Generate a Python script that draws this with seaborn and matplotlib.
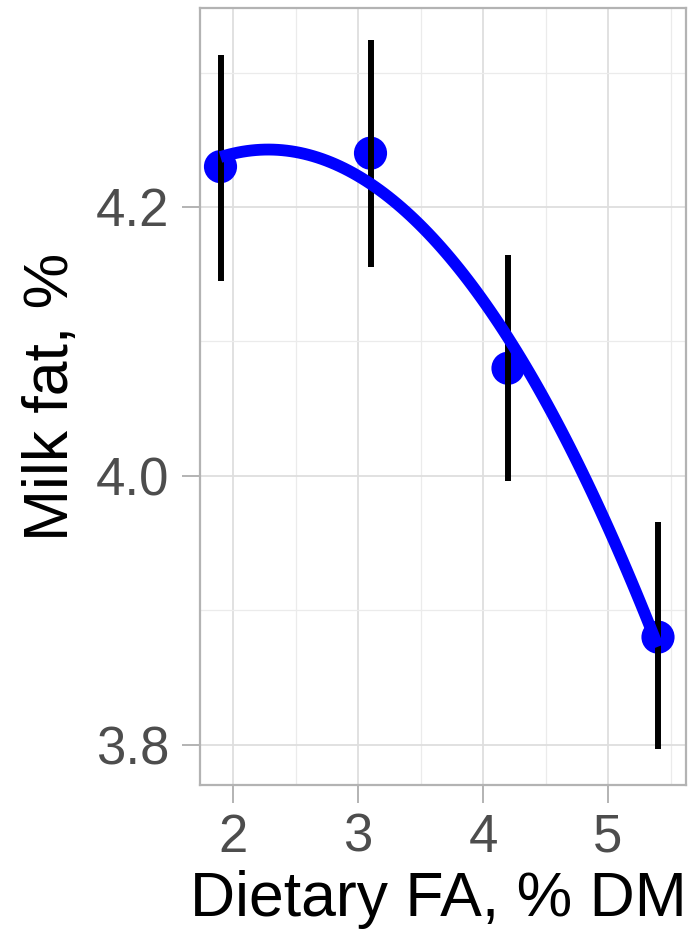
import matplotlib
matplotlib.use("Agg")
import matplotlib.pyplot as plt
import seaborn as sns
import numpy as np
import pandas as pd
from matplotlib.ticker import MultipleLocator

# Data
dietary_fa = [1.9, 3.1, 4.2, 5.4]
milk_fat = [4.23, 4.24, 4.08, 3.88]
err_low = [4.145, 4.155, 3.996, 3.797]
err_high = [4.313, 4.324, 4.164, 3.966]
x_ticks = [2, 3, 4, 5]
y_ticks = [3.8, 4.0, 4.2]
x_label = "Dietary FA, % DM"
y_label = "Milk fat, %"

df = pd.DataFrame({"x": dietary_fa, "y": milk_fat, "lo": err_low, "hi": err_high})

sns.set_style("white")
plt.rcParams['font.family'] = ['Liberation Sans', 'DejaVu Sans']

fig = plt.figure(figsize=(7, 9.4), dpi=100)
ax = fig.add_axes([200/700, 1-785/940, (686-200)/700, (785-8)/940])

ax.set_xlim(1.736, 5.624)
ax.set_ylim(3.770, 4.348)

# grids
ax.xaxis.set_major_locator(MultipleLocator(1))
ax.xaxis.set_minor_locator(MultipleLocator(0.5))
ax.yaxis.set_major_locator(MultipleLocator(0.2))
ax.yaxis.set_minor_locator(MultipleLocator(0.1))
ax.grid(which="major", color="#DEDEDE", linewidth=1.3, zorder=0)
ax.grid(which="minor", color="#EBEBEB", linewidth=0.9, zorder=0)
ax.set_axisbelow(True)

sns.scatterplot(data=df, x="x", y="y", ax=ax, color="#0000FF", s=570,
                edgecolor="none", zorder=3, legend=False)
ax.vlines(df["x"], df["lo"], df["hi"], color="black", linewidth=4.3, zorder=4)
sns.regplot(data=df, x="x", y="y", order=2, ci=None, scatter=False, ax=ax,
            line_kws={"color": "#0000FF", "linewidth": 8.5, "zorder": 5,
                      "solid_capstyle": "butt"}, truncate=True)

ax.set_xticks(x_ticks)
ax.set_yticks(y_ticks)
ax.set_xticklabels([str(v) for v in x_ticks])
ax.set_yticklabels([f"{v:.1f}" for v in y_ticks])
ax.tick_params(axis="both", which="major", labelsize=38, labelcolor="#4D4D4D",
               color="#B3B3B3", length=13, width=1.4, bottom=True, left=True)
ax.tick_params(axis="y", which="major", pad=9)
ax.tick_params(axis="x", which="major", pad=7)
ax.tick_params(which="minor", length=0)

ax.set_xlabel(x_label, fontsize=45, color="black")
ax.set_ylabel(y_label, fontsize=45, color="black")
ax.xaxis.set_label_coords(0.49, -0.109)
ax.yaxis.set_label_coords(-0.245, 0.5)

for s in ax.spines.values():
    s.set_visible(True)
    s.set_color("#B3B3B3")
    s.set_linewidth(1.6)

fig.savefig("out.png", dpi=100)
